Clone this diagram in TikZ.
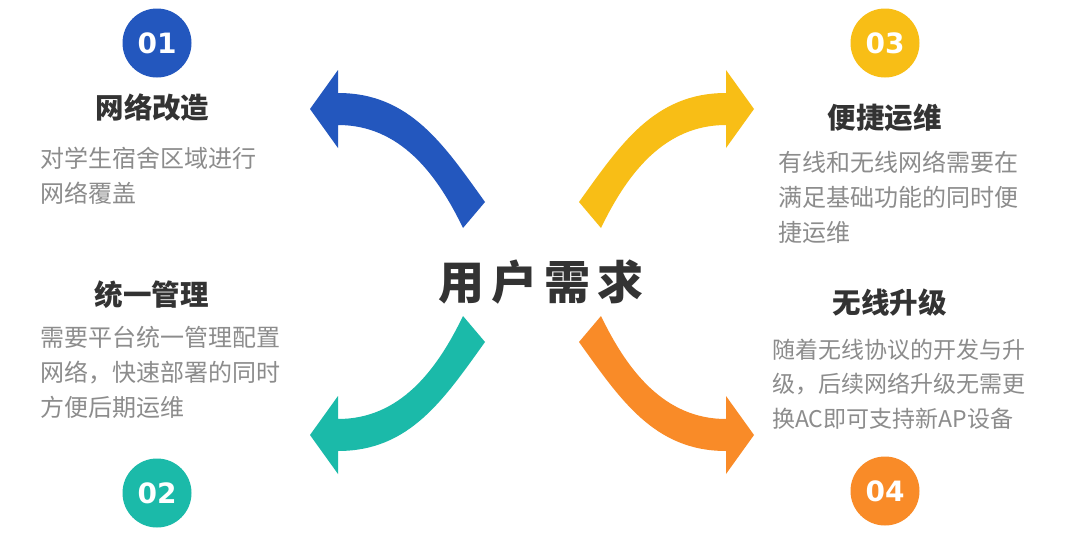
\documentclass[tikz,border=0pt]{standalone}
\usepackage{fontspec}
\newfontfamily\cjk{Noto Sans CJK SC}
\newfontfamily\numfont{DejaVu Sans}
\definecolor{cblue}{HTML}{2357BE}
\definecolor{cteal}{HTML}{1BBAA9}
\definecolor{cyellow}{HTML}{F8BE16}
\definecolor{corange}{HTML}{F98B28}
\definecolor{ctitle}{HTML}{333333}
\definecolor{cdesc}{HTML}{8C8C8C}
\tikzset{
  bigarrow/.pic={
    \path[pic actions] (-222,-163) -- (-194,-202) -- (-194,-179)
      .. controls (-122,-179) and (-88,-127) .. (-47,-70)
      -- (-69,-44)
      .. controls (-95,-98) and (-132,-147) .. (-194,-147)
      -- (-194,-124) -- cycle;
  },
  numcircle/.style={circle, minimum size=69pt, inner sep=0pt, text=white,
    font=\numfont\bfseries\fontsize{28}{28}\selectfont},
  titlestyle/.style={anchor=base, inner sep=0pt, text=ctitle,
    font=\cjk\bfseries\fontsize{28.5}{30}\selectfont},
  descstyle/.style={anchor=base west, inner sep=0pt, text=cdesc,
    font=\cjk\fontsize{24}{35}\selectfont},
  descsmall/.style={descstyle, font=\cjk\fontsize{23}{34.5}\selectfont},
}
\begin{document}
\begin{tikzpicture}[x=1pt,y=-1pt]
\fill[white] (0,0) rectangle (1080,554);
\useasboundingbox (0,0) rectangle (1080,554);
\coordinate (ctr) at (532,272);
% arrows
\pic[fill=cblue] at (ctr) {bigarrow};
\pic[fill=cyellow, xscale=-1] at (ctr) {bigarrow};
\pic[fill=cteal, yscale=-1] at (ctr) {bigarrow};
\pic[fill=corange, xscale=-1, yscale=-1] at (ctr) {bigarrow};
% centre text
\node[anchor=base, inner sep=0pt, text=ctitle,
  font=\cjk\bfseries\fontsize{46}{50}\selectfont] (center) at (541,299)
  {用\hspace{7pt}户\hspace{7pt}需\hspace{7pt}求};
% number circles
\node[numcircle, fill=cblue] (n1) at (157,43) {01};
\node[numcircle, fill=cteal] (n2) at (157,493) {02};
\node[numcircle, fill=cyellow] (n3) at (885,43) {03};
\node[numcircle, fill=corange] (n4) at (885,491) {04};
% titles
\node[titlestyle] (t1) at (152.5,118.3) {网络改造};
\node[titlestyle] (t2) at (151.5,305.3) {统一管理};
\node[titlestyle] (t3) at (884.5,128.8) {便捷运维};
\node[titlestyle] (t4) at (889.5,313.3) {无线升级};
% descriptions
\node[descstyle] (d1) at (40,167)
  {\begin{tabular}[t]{@{}l@{}}对学生宿舍区域进行\\网络覆盖\end{tabular}};
\node[descstyle] (d2) at (40,346)
  {\begin{tabular}[t]{@{}l@{}}需要平台统一管理配置\\网络，快速部署的同时\\方便后期运维\end{tabular}};
\node[descstyle] (d3) at (778,171)
  {\begin{tabular}[t]{@{}l@{}}有线和无线网络需要在\\满足基础功能的同时便\\捷运维\end{tabular}};
\node[descsmall] (d4) at (772,358)
  {\begin{tabular}[t]{@{}l@{}}随着无线协议的开发与升\\级，后续网络升级无需更\\换AC即可支持新AP设备\end{tabular}};
\end{tikzpicture}
\end{document}
